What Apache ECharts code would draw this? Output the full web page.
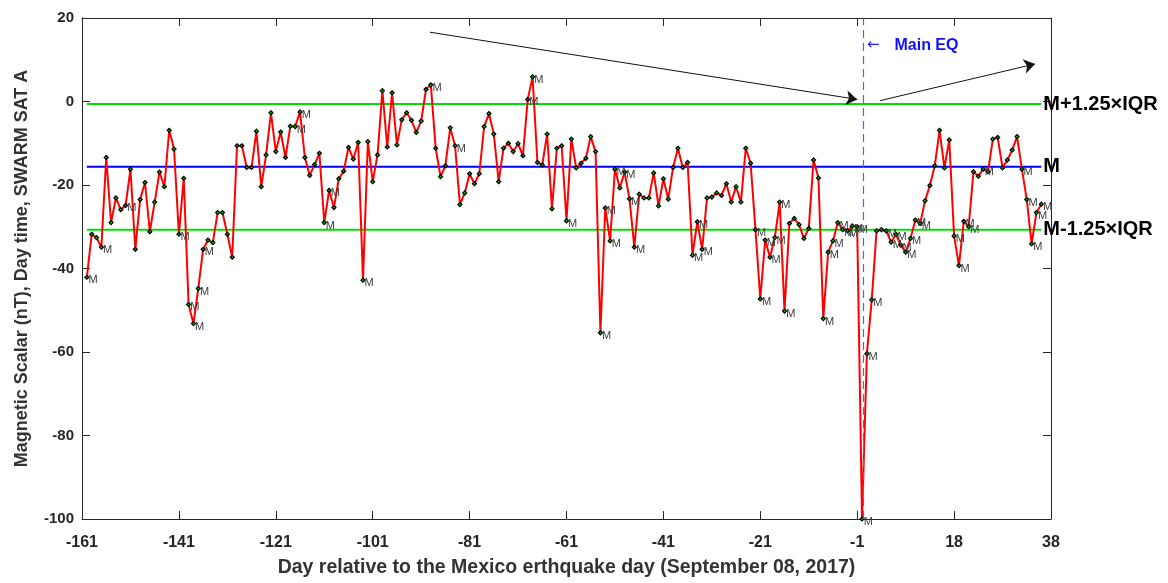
<!DOCTYPE html>
<html>
<head>
<meta charset="utf-8">
<script src="https://cdn.jsdelivr.net/npm/echarts/dist/echarts.min.js"></script>
<style>
  html, body { margin: 0; padding: 0; background: #fff; }
  #chart { width: 1168px; height: 583px; }
</style>
</head>
<body>
<div id="chart"></div>
<script>
// tick labels of the day axis (evenly spaced, every 20 samples)
const xTickLabels = ['-161', '-141', '-121', '-101', '-81', '-61', '-41', '-21', '-1', '18', '38'];

// daily scalar values, sample index 1..198
const firstIndex = 1;
const scalarValues = [
  -42.1, -31.8, -32.6, -34.9, -13.4, -29.0, -23.1, -25.9, -24.9, -16.2,
  -35.4, -23.5, -19.4, -31.2, -24.1, -16.9, -20.4, -6.9, -11.4, -31.8,
  -18.4, -48.6, -53.2, -44.8, -35.4, -33.2, -33.8, -26.6, -26.6, -31.8,
  -37.3, -10.6, -10.6, -15.8, -15.8, -7.1, -20.4, -12.8, -2.7, -12.0,
  -7.3, -13.4, -5.9, -6.0, -2.5, -13.4, -17.7, -15.1, -12.4, -29.0,
  -21.3, -25.4, -18.5, -16.7, -11.0, -13.8, -9.8, -42.8, -9.6, -19.2,
  -12.8, 2.6, -10.9, 2.1, -10.4, -4.4, -2.7, -4.5, -7.4, -4.7,
  2.9, 4.0, -11.2, -18.0, -15.4, -6.3, -10.6, -24.7, -21.9, -17.3,
  -19.7, -17.3, -6.0, -2.9, -7.8, -19.2, -11.2, -10.0, -12.0, -10.1,
  -13.0, 0.5, 5.9, -14.6, -15.2, -7.8, -25.7, -11.2, -10.6, -28.6,
  -9.0, -15.9, -14.8, -13.6, -8.4, -12.0, -55.4, -25.5, -33.4, -16.2,
  -20.7, -16.9, -23.3, -34.9, -22.2, -23.1, -23.1, -17.1, -25.0, -18.5,
  -23.4, -15.8, -11.2, -15.8, -14.6, -36.8, -28.8, -35.4, -23.1, -22.9,
  -21.9, -22.5, -19.7, -24.1, -20.4, -24.1, -11.2, -14.8, -30.7, -47.3,
  -33.2, -37.3, -32.6, -24.1, -50.2, -29.2, -28.0, -29.5, -32.8, -30.4,
  -14.0, -18.3, -52.0, -36.1, -33.4, -29.0, -30.7, -31.0, -29.8, -30.0,
  -100.0, -60.4, -47.5, -31.0, -30.7, -31.0, -33.7, -31.8, -34.4, -36.1,
  -32.8, -28.4, -29.2, -23.8, -20.1, -15.4, -6.9, -15.9, -9.2, -32.2,
  -39.3, -28.7, -30.0, -16.8, -17.9, -16.2, -16.8, -9.0, -8.6, -15.9,
  -14.0, -11.6, -8.4, -16.2, -23.5, -34.1, -26.6, -24.6
];

// samples that carry an "M" tag
const mTagged = [
  1, 4, 9, 20, 22, 23, 24, 25, 44, 45, 50, 51, 58, 72, 77, 92, 93,
  100, 107, 108, 109, 110, 112, 113, 114, 126, 127, 128, 139, 140, 141,
  142, 143, 144, 145, 153, 154, 155, 156, 157, 158, 159, 160, 161, 162,
  163, 166, 167, 168, 169, 170, 171, 172, 173, 180, 181, 182, 183, 186,
  194, 195, 196, 197, 198
];

// statistics lines
const upperLevel = -0.6;   // M + 1.25 IQR
const medianLevel = -15.6; // M
const lowerLevel = -30.7;  // M - 1.25 IQR
const eqIndex = 161.2;     // main earthquake day

const lastIndex = firstIndex + scalarValues.length - 1;

const seriesData = scalarValues.map((v, i) => {
  const idx = firstIndex + i;
  const item = { value: [idx, v] };
  if (mTagged.includes(idx)) item.label = { show: true };
  return item;
});

const axisColor = '#262626';
const font = 'Liberation Sans';

function levelLine(value, color, text) {
  return {
    type: 'line',
    data: [[firstIndex, value], [lastIndex, value]],
    symbol: 'none',
    silent: true,
    z: 1,
    lineStyle: { color: color, width: 2 },
    endLabel: {
      show: true,
      formatter: text,
      distance: 2,
      color: '#000',
      fontSize: 20,
      fontWeight: 'bold',
      fontFamily: font
    }
  };
}

const chart = echarts.init(document.getElementById('chart'));

const option = {
  animation: false,
  backgroundColor: '#fff',
  grid: { left: 82, right: 117, top: 18, bottom: 60 },
  xAxis: [{
    type: 'value',
    min: 0,
    max: 200,
    interval: 20,
    name: 'Day relative to the Mexico erthquake day (September 08, 2017)',
    nameLocation: 'middle',
    nameGap: 39,
    nameTextStyle: { color: '#333', fontSize: 19.5, fontWeight: 'bold', fontFamily: font },
    axisLine: { onZero: false, lineStyle: { color: axisColor, width: 1 } },
    axisTick: { inside: true, length: 8, lineStyle: { color: axisColor } },
    axisLabel: {
      margin: 16,
      color: axisColor,
      fontSize: 16,
      fontWeight: 'bold',
      fontFamily: font,
      formatter: (v) => xTickLabels[Math.round(v / 20)]
    },
    splitLine: { show: false }
  }, {
    type: 'value',
    position: 'top',
    min: 0,
    max: 200,
    interval: 20,
    axisLine: { onZero: false, lineStyle: { color: axisColor, width: 1 } },
    axisTick: { inside: true, length: 8, lineStyle: { color: axisColor } },
    axisLabel: { show: false },
    splitLine: { show: false }
  }],
  yAxis: [{
    type: 'value',
    min: -100,
    max: 20,
    interval: 20,
    name: 'Magnetic Scalar (nT), Day time, SWARM SAT A',
    nameLocation: 'middle',
    nameGap: 51,
    nameTextStyle: { color: '#333', fontSize: 18, fontWeight: 'bold', fontFamily: font },
    axisLine: { show: true, onZero: false, lineStyle: { color: axisColor, width: 1 } },
    axisTick: { show: true, inside: true, length: 8, lineStyle: { color: axisColor } },
    axisLabel: { margin: 8, color: axisColor, fontSize: 15, fontWeight: 'bold', fontFamily: font },
    splitLine: { show: false }
  }, {
    type: 'value',
    position: 'right',
    min: -100,
    max: 20,
    interval: 20,
    axisLine: { show: true, onZero: false, lineStyle: { color: axisColor, width: 1 } },
    axisTick: { show: true, inside: true, length: 8, lineStyle: { color: axisColor } },
    axisLabel: { show: false },
    splitLine: { show: false }
  }],
  series: [
    levelLine(upperLevel, '#00e000', 'M+1.25×IQR'),
    levelLine(medianLevel, '#0000ff', 'M'),
    levelLine(lowerLevel, '#00e000', 'M-1.25×IQR'),
    {
      type: 'line',
      data: seriesData,
      z: 3,
      symbol: 'diamond',
      symbolSize: 4,
      showAllSymbol: true,
      lineStyle: { color: '#ff0000', width: 2 },
      itemStyle: { color: '#00c000', borderColor: '#000', borderWidth: 1.2 },
      label: {
        show: false,
        position: 'right',
        distance: 0,
        offset: [-1, 3],
        formatter: 'M',
        color: '#3c3c3c',
        fontSize: 11,
        fontFamily: font
      },
      markLine: {
        silent: true,
        symbol: 'none',
        label: { show: false },
        lineStyle: { color: '#5a5aff', type: [8, 5], width: 1.2 },
        data: [{ xAxis: eqIndex }]
      },
      markPoint: {
        silent: true,
        symbol: 'circle',
        symbolSize: 0,
        label: {
          show: true,
          position: 'right',
          distance: 0,
          formatter: '{a|←}{b|Main EQ}',
          rich: {
            a: { color: '#2020ff', fontSize: 15, fontFamily: 'DejaVu Sans' },
            b: { color: '#1010ff', fontSize: 16, fontWeight: 'bold', fontFamily: font, padding: [0, 0, 0, 15] }
          }
        },
        data: [{ coord: [162.0, 13.5] }]
      }
    },
    {
      type: 'line',
      data: [],
      markLine: {
        silent: true,
        symbol: ['none', 'arrow'],
        symbolSize: 11,
        label: { show: false },
        lineStyle: { color: '#111', type: 'solid', width: 1 },
        data: [
          [{ coord: [71.8, 16.6] }, { coord: [160.0, 0.5] }],
          [{ coord: [164.7, 0.2] }, { coord: [196.7, 9.0] }]
        ]
      }
    }
  ]
};

chart.setOption(option);
</script>
</body>
</html>
